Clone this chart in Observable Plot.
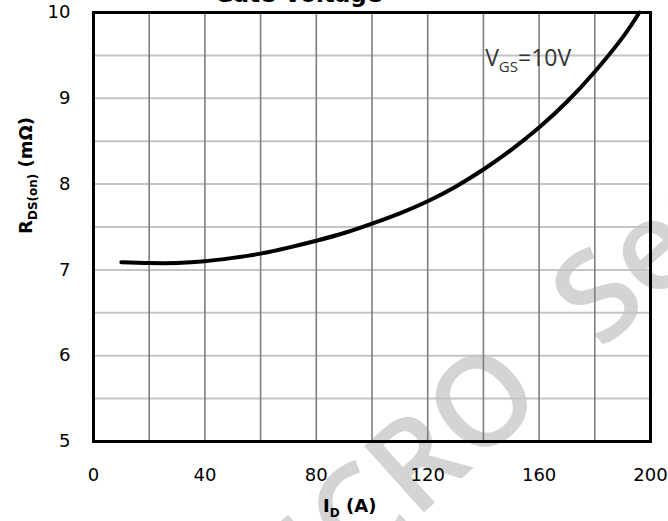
<!DOCTYPE html>
<html><head><meta charset="utf-8">
<script src="https://cdn.jsdelivr.net/npm/d3@7"></script>
<script src="https://cdn.jsdelivr.net/npm/@observablehq/plot@0.6"></script>
<style>
body{margin:0;background:#fff;}
#chart svg{overflow:hidden;display:block;}
</style>
</head><body><div id="chart"></div>
<script>
// ---- data ----
const currentA = [10, 20, 30, 40, 50, 60, 70, 80, 90, 100, 110, 120, 130, 140, 150, 160, 170, 180, 190, 196];
const rdsOn    = [7.09, 7.08, 7.08, 7.10, 7.14, 7.19, 7.26, 7.34, 7.43, 7.54, 7.66, 7.80, 7.97, 8.17, 8.40, 8.66, 8.96, 9.31, 9.71, 10.0];
const xTicks = [0, 40, 80, 120, 160, 200];
const yTicks = [5, 6, 7, 8, 9, 10];
const xGrid = [20, 40, 60, 80, 100, 120, 140, 160, 180];
const yGrid = [5.5, 6, 6.5, 7, 7.5, 8, 8.5, 9, 9.5];
const titleText = "Gate Voltage";
const xLabelMain = "I", xLabelSub = "D", xLabelTail = " (A)";
const yLabelMain = "R", yLabelSub = "DS(on)", yLabelTail = " (mΩ)";
const seriesMain = "V", seriesSub = "GS", seriesTail = "=10V";
const seriesLabelAt = [140.8, 9.37];
const watermarkText = ["MICRO", "Semi"];
const watermarkAt = [[153.5, 5.82], [172.5, 6.40]];

const data = currentA.map((x, i) => ({x, y: rdsOn[i]}));
const wm = [
  {t: watermarkText[0], x: watermarkAt[0][0], y: watermarkAt[0][1], a: "end"},
  {t: watermarkText[1], x: watermarkAt[1][0], y: watermarkAt[1][1], a: "start"}
];

const plot = Plot.plot({
  width: 668, height: 521,
  marginLeft: 93, marginRight: 18, marginTop: 12, marginBottom: 80,
  style: {fontFamily: "DejaVu Sans", fontSize: "18px", color: "#000", background: "#fff", overflow: "hidden"},
  x: {domain: [0, 200], ticks: xTicks, tickSize: 0, tickPadding: 27, tickFormat: d3.format("d"), label: null},
  y: {domain: [5, 10], ticks: yTicks, tickSize: 0, tickPadding: 23, tickFormat: d3.format("d"), label: null},
  marks: [
    Plot.text(wm.filter(d => d.a === "end"), {x: "x", y: "y", text: "t", rotate: -42, textAnchor: "end", lineAnchor: "middle", fontSize: 125, fontWeight: 600, fontFamily: "Open Sans", fill: "#d4d4d4"}),
    Plot.text(wm.filter(d => d.a === "start"), {x: "x", y: "y", text: "t", rotate: -42, textAnchor: "start", lineAnchor: "middle", fontSize: 125, fontWeight: 600, fontFamily: "Open Sans", fill: "#d4d4d4"}),
    Plot.ruleY(yGrid, {stroke: "#c4c4c4", strokeWidth: 2}),
    Plot.ruleX(xGrid, {stroke: "#7f7f7f", strokeWidth: 1.6}),
    Plot.frame({stroke: "#000", strokeWidth: 3}),
    Plot.line(data, {x: "x", y: "y", curve: "natural", stroke: "#000", strokeWidth: 4})
  ]
});

document.getElementById("chart").appendChild(plot);

const svg = d3.select(plot);
// watermark sits beneath everything else (axes included)
svg.selectAll('g[aria-label="text"]').lower();
svg.selectAll("style").lower();

const xs = plot.scale("x"), ys = plot.scale("y");
const [x0, x1] = xs.range, [yb, yt] = ys.range;

// title (cut off at the top, as in the reference)
svg.append("text")
  .attr("x", x0 + (x1 - x0) * 0.369).attr("y", yt - 10)
  .attr("text-anchor", "middle")
  .attr("font-family", "DejaVu Sans").attr("font-weight", "bold").attr("font-size", 23)
  .attr("fill", "#000")
  .text(titleText);

// x axis label
const xl = svg.append("text")
  .attr("x", x0 + (x1 - x0) * 0.461).attr("y", yb + 71)
  .attr("text-anchor", "middle")
  .attr("font-family", "DejaVu Sans").attr("font-weight", "bold").attr("font-size", 18)
  .attr("fill", "#000");
xl.append("tspan").text(xLabelMain);
xl.append("tspan").attr("font-size", 12).attr("dy", 5).text(xLabelSub);
xl.append("tspan").attr("dy", -5).text(xLabelTail);

// y axis label
const yl = svg.append("text")
  .attr("transform", `translate(32,${yt + (yb - yt) * 0.381}) rotate(-90)`)
  .attr("text-anchor", "middle")
  .attr("font-family", "DejaVu Sans").attr("font-weight", "bold").attr("font-size", 18)
  .attr("fill", "#000");
yl.append("tspan").text(yLabelMain);
yl.append("tspan").attr("font-size", 12).attr("dy", 5).text(yLabelSub);
yl.append("tspan").attr("dy", -5).text(yLabelTail);

// series annotation
const sl = svg.append("text")
  .attr("x", xs.apply(seriesLabelAt[0])).attr("y", ys.apply(seriesLabelAt[1]))
  .attr("text-anchor", "start")
  .attr("font-family", "Open Sans").attr("font-size", 23)
  .attr("fill", "#333");
sl.append("tspan").text(seriesMain);
sl.append("tspan").attr("font-size", 15).attr("dy", 6).text(seriesSub);
sl.append("tspan").attr("dy", -6).text(seriesTail);
</script>
</body></html>
